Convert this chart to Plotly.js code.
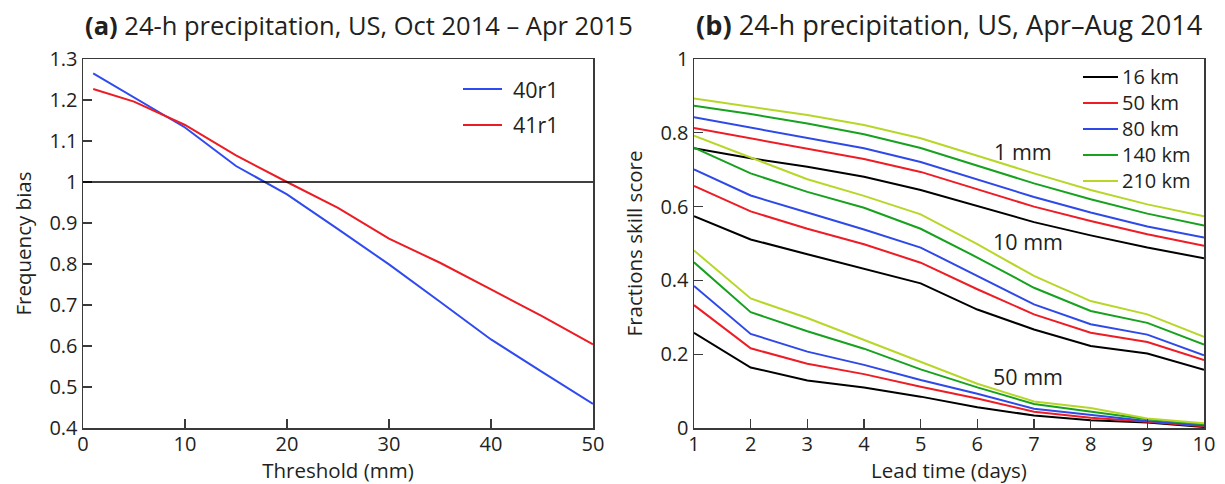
<!DOCTYPE html>
<html>
<head>
<meta charset="utf-8">
<script src="https://cdn.plot.ly/plotly-3.0.1.min.js"></script>
<style>
  html, body { margin: 0; padding: 0; background: #fff; }
  #chart { width: 1225px; height: 484px; }
</style>
</head>
<body>
<div id="chart"></div>
<script>
// ---- (a) Frequency bias vs. threshold ----
const threshold = [1, 5, 10, 15, 20, 25, 30, 35, 40, 45, 50];
const bias40r1 = [1.265, 1.206, 1.133, 1.039, 0.970, 0.885, 0.799, 0.708, 0.616, 0.537, 0.459];
const bias41r1 = [1.227, 1.196, 1.139, 1.065, 1.000, 0.937, 0.862, 0.803, 0.738, 0.673, 0.604];
const cycleNames = ['40r1', '41r1'];
const biasTicks = [0.4, 0.5, 0.6, 0.7, 0.8, 0.9, 1, 1.1, 1.2, 1.3];
const biasTickText = ['0.4', '0.5', '0.6', '0.7', '0.8', '0.9', '1', '1.1', '1.2', '1.3'];
const thresholdTicks = [0, 10, 20, 30, 40, 50];

// ---- (b) Fractions skill score vs. lead time ----
const leadDays = [1, 2, 3, 4, 5, 6, 7, 8, 9, 10];
const scales = ['16 km', '50 km', '80 km', '140 km', '210 km'];

const fss1mm_16 = [0.758, 0.731, 0.708, 0.681, 0.645, 0.602, 0.558, 0.522, 0.489, 0.460];
const fss1mm_50 = [0.813, 0.785, 0.758, 0.729, 0.694, 0.647, 0.600, 0.561, 0.525, 0.494];
const fss1mm_80 = [0.842, 0.814, 0.787, 0.758, 0.721, 0.674, 0.626, 0.584, 0.546, 0.516];
const fss1mm_140 = [0.873, 0.851, 0.825, 0.796, 0.759, 0.710, 0.663, 0.620, 0.581, 0.549];
const fss1mm_210 = [0.893, 0.871, 0.848, 0.821, 0.785, 0.738, 0.690, 0.645, 0.606, 0.574];

const fss10mm_16 = [0.574, 0.511, 0.471, 0.432, 0.392, 0.321, 0.267, 0.222, 0.202, 0.158];
const fss10mm_50 = [0.656, 0.587, 0.540, 0.498, 0.448, 0.376, 0.308, 0.258, 0.233, 0.184];
const fss10mm_80 = [0.701, 0.630, 0.584, 0.538, 0.489, 0.412, 0.335, 0.281, 0.253, 0.197];
const fss10mm_140 = [0.760, 0.690, 0.640, 0.597, 0.540, 0.462, 0.380, 0.317, 0.285, 0.226];
const fss10mm_210 = [0.792, 0.732, 0.674, 0.629, 0.579, 0.498, 0.412, 0.344, 0.308, 0.247];

const fss50mm_16 = [0.258, 0.164, 0.129, 0.110, 0.085, 0.056, 0.034, 0.021, 0.015, 0.003];
const fss50mm_50 = [0.333, 0.216, 0.174, 0.146, 0.112, 0.080, 0.044, 0.028, 0.017, 0.005];
const fss50mm_80 = [0.385, 0.255, 0.207, 0.171, 0.130, 0.093, 0.052, 0.035, 0.019, 0.007];
const fss50mm_140 = [0.449, 0.314, 0.262, 0.215, 0.159, 0.110, 0.065, 0.044, 0.024, 0.010];
const fss50mm_210 = [0.481, 0.351, 0.298, 0.239, 0.178, 0.120, 0.072, 0.054, 0.026, 0.013];

const thresholdLabels = ['1 mm', '10 mm', '50 mm'];
const labelDay = [6.8, 6.9, 6.9];
const labelFss = [0.748, 0.506, 0.139];
const fssTicks = [0, 0.2, 0.4, 0.6, 0.8, 1];
const fssTickText = ['0', '0.2', '0.4', '0.6', '0.8', '1'];

// ---- styling ----
const W = 1225, H = 484;
const FONT = 'Open Sans, sans-serif';
const INK = '#231f20';
const cycleColors = ['#2f4bef', '#ec1c24'];
const scaleColors = ['#000000', '#ee1c25', '#2e49e8', '#17a11f', '#b7d728'];
const px = v => v / W;
const py = v => 1 - v / H;

const traces = [];
[bias40r1, bias41r1].forEach((ys, i) => {
  traces.push({
    x: threshold, y: ys, xaxis: 'x', yaxis: 'y', type: 'scatter', mode: 'lines',
    name: cycleNames[i], line: {color: cycleColors[i], width: 2}, showlegend: false
  });
});

const groups = [
  [fss1mm_16, fss1mm_50, fss1mm_80, fss1mm_140, fss1mm_210],
  [fss10mm_16, fss10mm_50, fss10mm_80, fss10mm_140, fss10mm_210],
  [fss50mm_16, fss50mm_50, fss50mm_80, fss50mm_140, fss50mm_210]
];
groups.forEach((set, g) => {
  set.forEach((ys, k) => {
    traces.push({
      x: leadDays, y: ys, xaxis: 'x2', yaxis: 'y2', type: 'scatter', mode: 'lines',
      name: scales[k] + ', ' + thresholdLabels[g], line: {color: scaleColors[k], width: 2},
      showlegend: false
    });
  });
});

const axisCommon = {
  showline: true, mirror: true, linecolor: '#3a3a3a', linewidth: 1.5,
  ticks: 'inside', ticklen: 9, tickwidth: 1.3, tickcolor: '#3a3a3a',
  showgrid: false, zeroline: false, automargin: false,
  tickfont: {family: FONT, size: 20, color: INK}
};
const xAxisExtra = {ticklabelstandoff: -3};
const yDomain = [1 - 428 / H, 1 - 59 / H];
const TITLE_FONT = {family: FONT, size: 20.5, color: INK};

const shapes = [
  // reference line at unit bias
  {type: 'line', xref: 'x domain', yref: 'y', x0: 0, x1: 1, y0: 1, y1: 1,
   line: {color: '#000', width: 1.3}}
];
const annotations = [
  {xref: 'paper', yref: 'paper', x: px(83), y: py(25), xanchor: 'left', yanchor: 'middle',
   showarrow: false, text: '<b>(a)</b> 24-h precipitation, US, Oct 2014 – Apr 2015',
   font: {family: FONT, size: 25.5, color: INK}},
  {xref: 'paper', yref: 'paper', x: px(694), y: py(25), xanchor: 'left', yanchor: 'middle',
   showarrow: false, text: '<b>(b)</b> 24-h precipitation, US, Apr–Aug 2014',
   font: {family: FONT, size: 27.2, color: INK}}
];

// key for (a): sample strokes with their cycle names
cycleNames.forEach((n, i) => {
  const yy = py(89 + 36 * i);
  shapes.push({type: 'line', xref: 'paper', yref: 'paper', x0: px(463), x1: px(502), y0: yy, y1: yy,
               line: {color: cycleColors[i], width: 2}});
  annotations.push({xref: 'paper', yref: 'paper', x: px(511), y: yy, xanchor: 'left', yanchor: 'middle',
                    showarrow: false, text: n, font: {family: FONT, size: 21.5, color: INK}});
});
// key for (b): one sample stroke per neighbourhood scale, names set as one text block
const KEY_ROW = 26;           // 1.3 x font size, matching the text block's line spacing
const KEY_TOP = 77;
scales.forEach((n, k) => {
  const yy = py(KEY_TOP + KEY_ROW * k);
  shapes.push({type: 'line', xref: 'paper', yref: 'paper', x0: px(1083), x1: px(1118), y0: yy, y1: yy,
               line: {color: scaleColors[k], width: 2}});
});
annotations.push({xref: 'paper', yref: 'paper', x: px(1120),
                  y: py(KEY_TOP + KEY_ROW * (scales.length - 1) / 2),
                  xanchor: 'left', yanchor: 'middle', align: 'left',
                  showarrow: false, text: scales.join('<br>'),
                  font: {family: FONT, size: 20, color: INK}});
// threshold group labels in (b)
thresholdLabels.forEach((t, g) => {
  annotations.push({xref: 'x2', yref: 'y2', x: labelDay[g], y: labelFss[g], xanchor: 'center', yanchor: 'middle',
                    showarrow: false, text: t, font: {family: FONT, size: 21.5, color: INK}});
});

const layout = {
  width: W, height: H,
  margin: {l: 0, r: 0, t: 0, b: 0, pad: 0},
  paper_bgcolor: '#fff', plot_bgcolor: '#fff',
  showlegend: false,
  xaxis: Object.assign({}, axisCommon, xAxisExtra, {
    domain: [px(83), px(593)], range: [0, 50], tickvals: thresholdTicks,
    anchor: 'y',
    title: {text: 'Threshold (mm)', font: TITLE_FONT, standoff: 12}
  }),
  yaxis: Object.assign({}, axisCommon, {
    domain: yDomain, range: [0.4, 1.3], tickvals: biasTicks, ticktext: biasTickText,
    anchor: 'x',
    title: {text: 'Frequency bias', font: TITLE_FONT, standoff: 12}
  }),
  xaxis2: Object.assign({}, axisCommon, xAxisExtra, {
    domain: [px(694), px(1204)], range: [1, 10], tickvals: leadDays,
    anchor: 'y2',
    title: {text: 'Lead time (days)', font: TITLE_FONT, standoff: 12}
  }),
  yaxis2: Object.assign({}, axisCommon, {
    domain: yDomain, range: [0, 1], tickvals: fssTicks, ticktext: fssTickText,
    anchor: 'x2',
    title: {text: 'Fractions skill score', font: TITLE_FONT, standoff: 12}
  }),
  shapes: shapes,
  annotations: annotations
};

Plotly.newPlot('chart', traces, layout, {displayModeBar: false, staticPlot: true});
</script>
</body>
</html>
